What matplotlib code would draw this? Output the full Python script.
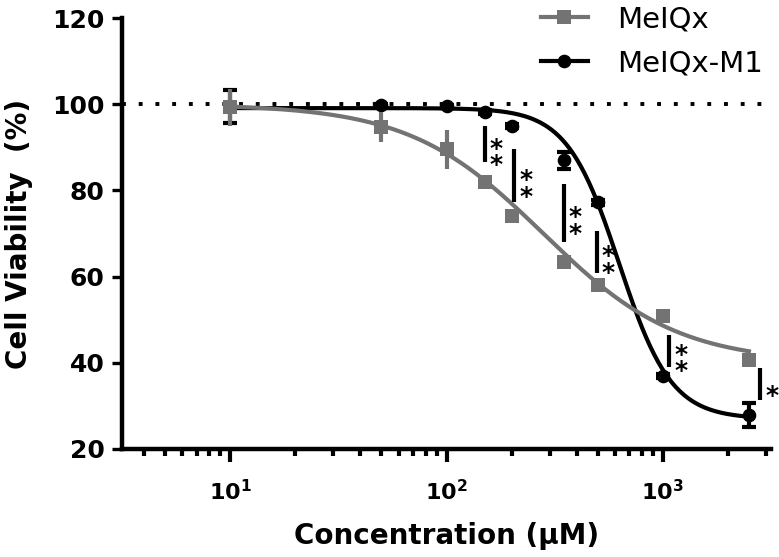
import numpy as np
import matplotlib
matplotlib.use("Agg")
import matplotlib.pyplot as plt
from matplotlib.lines import Line2D
from matplotlib.ticker import LogLocator, NullFormatter, FixedLocator

# ---------------- data ----------------
conc = [10, 50, 100, 150, 200, 350, 500, 1000, 2500]
meiqx_mean = [99.3, 94.7, 89.5, 81.9, 74.0, 63.5, 58.1, 50.9, 40.7]
meiqx_err = [4.3, 3.5, 4.5, 1.4, 0.5, 0.5, 0.5, 1.1, 0.8]
m1_mean = [99.5, 99.8, 99.5, 98.2, 94.9, 87.0, 77.2, 37.0, 27.8]
m1_err = [3.8, 0.3, 0.3, 0.5, 0.5, 2.0, 0.5, 0.5, 2.8]

# four-parameter logistic fit parameters (top, bottom, IC50, hill)
meiqx_fit = [100.0, 40.0, 280.0, 1.4]
m1_fit = [99.1, 27.0, 628.0, 3.6]

# significance markers
sig_x = [150, 206, 348, 494, 1067, 2811]
sig_low = [86.5, 77.2, 68.1, 60.9, 39.1, 31.4]
sig_high = [94.9, 89.5, 81.4, 70.5, 46.5, 38.8]
sig_labels = ["**", "**", "**", "**", "**", "*"]

series_names = ["MeIQx", "MeIQx-M1"]
y_ticks = [20, 40, 60, 80, 100, 120]
x_major = [10, 100, 1000]
x_tick_labels = [r"$\mathbf{10^{1}}$", r"$\mathbf{10^{2}}$", r"$\mathbf{10^{3}}$"]

GRAY = "#737373"
BLACK = "#000000"


def logistic(x, p):
    top, bottom, ic50, hill = p
    return bottom + (top - bottom) / (1.0 + (x / ic50) ** hill)


fig = plt.figure(figsize=(7.79, 5.57), dpi=100)
ax = fig.add_axes([122 / 779, 1 - 449 / 557, (771 - 122) / 779, (449 - 18) / 557])

ax.set_xscale("log")
ax.set_xlim(10 ** 0.5, 10 ** 3.5)
ax.set_ylim(20, 120)

# reference dotted line at 100 %
ax.axhline(100, color=BLACK, lw=2.8, linestyle=(0, (1, 3.3)), zorder=1)

xs = np.logspace(1, np.log10(2500), 400)

# MeIQx-M1
ax.plot(xs, logistic(xs, m1_fit), color=BLACK, lw=3, zorder=2)
ax.errorbar(conc, m1_mean, yerr=m1_err, fmt="o", color=BLACK, ms=8.8,
            capsize=5, capthick=3, elinewidth=3, zorder=3)

# MeIQx
ax.plot(xs, logistic(xs, meiqx_fit), color=GRAY, lw=3, zorder=4)
ax.errorbar(conc, meiqx_mean, yerr=meiqx_err, fmt="s", color=GRAY, ms=9.5,
            mew=0, capsize=5.5, capthick=3, elinewidth=3, zorder=5)

# significance bars and asterisks
for x, lo, hi, lab in zip(sig_x, sig_low, sig_high, sig_labels):
    ax.plot([x, x], [lo, hi], color=BLACK, lw=3, solid_capstyle="butt",
            zorder=6, clip_on=False)
    ax.annotate("\n".join(lab), xy=(x, (lo + hi) / 2), xytext=(8.5, -9),
                textcoords="offset points", ha="center", va="center",
                fontsize=18, linespacing=0.6, fontweight="bold",
                annotation_clip=False, zorder=7)

# axes styling
for s in ["top", "right"]:
    ax.spines[s].set_visible(False)
for s in ["left", "bottom"]:
    ax.spines[s].set_linewidth(3.2)

ax.yaxis.set_major_locator(FixedLocator(y_ticks))
ax.set_yticklabels([str(v) for v in y_ticks], fontsize=18, fontweight="bold")
ax.xaxis.set_major_locator(FixedLocator(x_major))
ax.set_xticklabels(x_tick_labels, fontsize=16)
ax.xaxis.set_minor_locator(LogLocator(base=10, subs=np.arange(2, 10)))
ax.xaxis.set_minor_formatter(NullFormatter())

ax.tick_params(axis="y", which="major", length=7.5, width=2.4, pad=5)
ax.tick_params(axis="x", which="major", length=9.5, width=3, pad=12)
ax.tick_params(axis="x", which="minor", length=5, width=3)

ax.set_xlabel("Concentration (μM)", fontsize=20, fontweight="bold", labelpad=13)
ax.set_ylabel("Cell Viability  (%)", fontsize=20, fontweight="bold", labelpad=14)

handles = [
    Line2D([], [], color=GRAY, lw=3, marker="s", ms=9.5, mew=0),
    Line2D([], [], color=BLACK, lw=3, marker="o", ms=8.8),
]
fig.legend(handles, series_names, loc="upper left",
           bbox_to_anchor=(541 / 779, 0.99), frameon=False, fontsize=21,
           borderpad=0, borderaxespad=0, handlelength=1.6,
           handletextpad=1.0, labelspacing=0.55)

fig.savefig("out.png", dpi=100)
